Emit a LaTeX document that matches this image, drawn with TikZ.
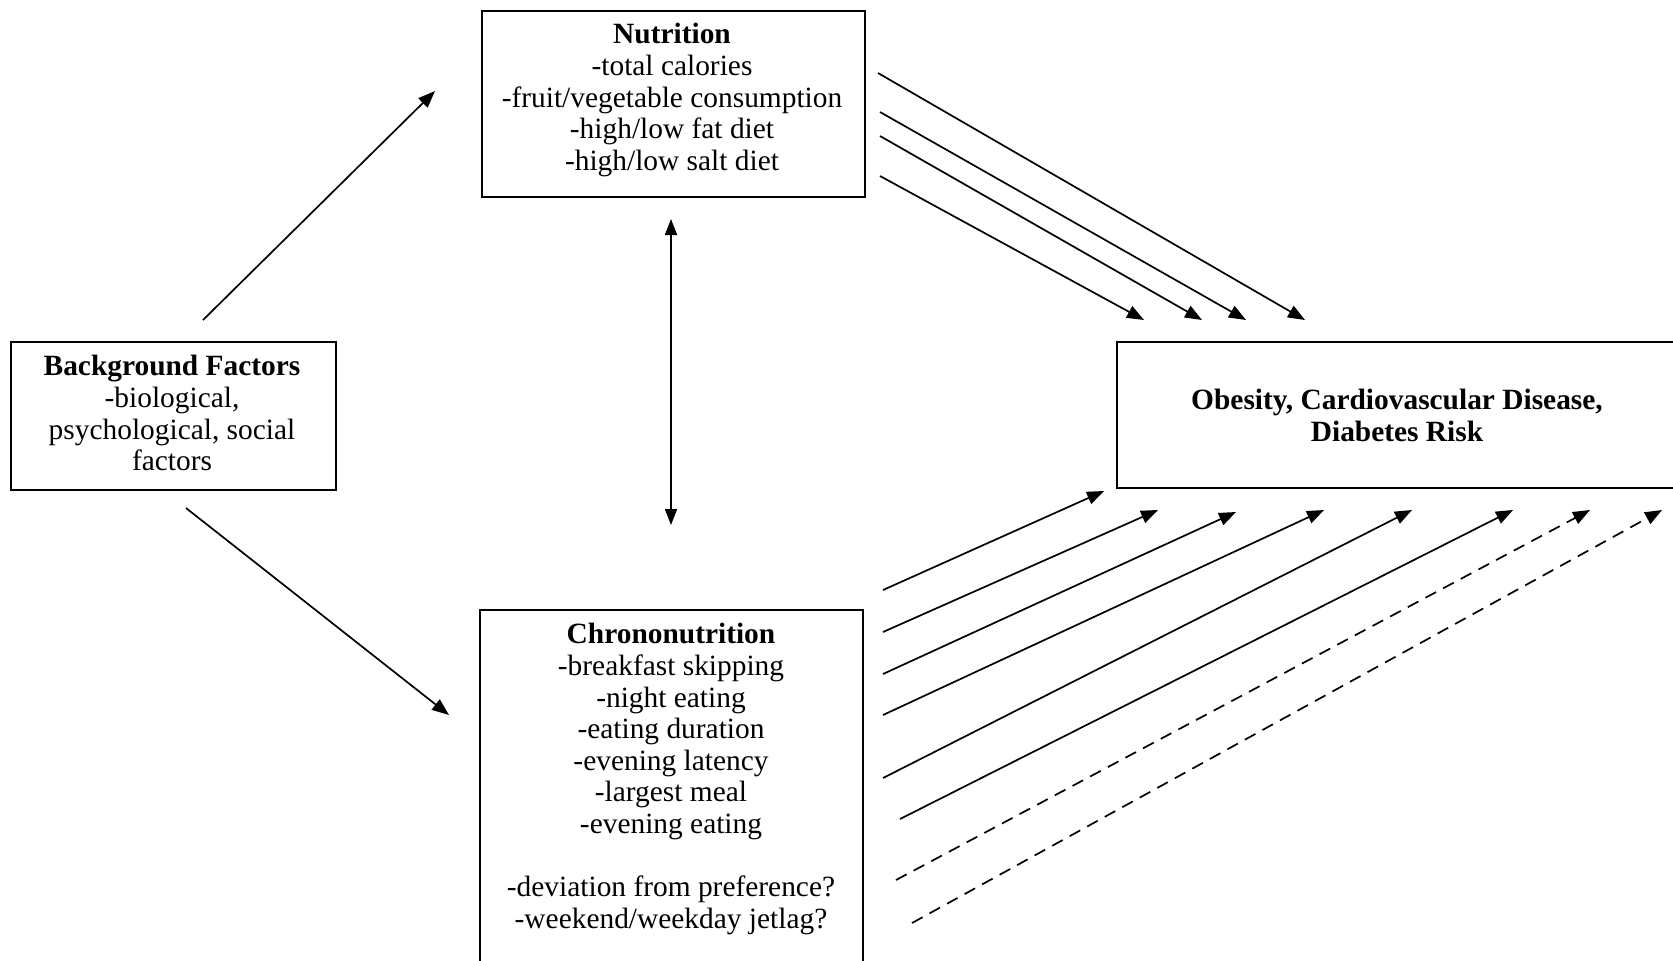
\documentclass[tikz,border=0pt]{standalone}
\usepackage{fontspec}
\setmainfont{Liberation Serif}
\usetikzlibrary{arrows.meta}
\tikzset{
  box/.style={draw, line width=1pt, rectangle, inner sep=0pt},
  txt/.style={align=center, inner sep=0pt, font=\fontsize{14.7}{15.8}\selectfont},
  arr/.style={line width=0.85pt, -{Triangle[length=8.5pt,width=6.5pt]}},
  darr/.style={line width=0.85pt, {Triangle[length=8pt,width=6pt]}-{Triangle[length=8pt,width=6pt]}},
  dsh/.style={arr, dash pattern=on 6pt off 4pt}
}
\begin{document}
\begin{tikzpicture}[x=0.5pt,y=-0.5pt]
\useasboundingbox (0,0) rectangle (1673,960);
% boxes
\node[box, anchor=north west, minimum width=191.5pt, minimum height=93pt] (nut) at (481,10) {};
\node[box, anchor=north west, minimum width=162.5pt, minimum height=74pt] (bg) at (10,341) {};
\node[box, anchor=north west, minimum width=191.5pt, minimum height=200pt] (chr) at (479,609) {};
\node[box, anchor=north west, minimum width=281pt, minimum height=73pt] (obs) at (1116,341) {};
% texts
\node[txt, anchor=north] (nuttxt) at (672,23) {\textbf{Nutrition}\\-total calories\\-fruit/vegetable consumption\\-high/low fat diet\\-high/low salt diet};
\node[txt, anchor=north] (bgtxt) at (172,355) {\textbf{Background Factors}\\-biological,\\psychological, social\\factors};
\node[txt, anchor=north] (chrtxt) at (671,623) {\textbf{Chrononutrition}\\-breakfast skipping\\-night eating\\-eating duration\\-evening latency\\-largest meal\\-evening eating\\[15.8pt]-deviation from preference?\\-weekend/weekday jetlag?};
\node[txt, anchor=north, font=\fontsize{14.7}{15.8}\selectfont\bfseries] (obstxt) at (1397,389) {Obesity, Cardiovascular Disease,\\Diabetes Risk};
% coordinates
\coordinate (bgN) at (203,320);
\coordinate (nutW) at (435,91);
\coordinate (bgS) at (186,508);
\coordinate (chrW) at (449,715);
\coordinate (nutS) at (671,219);
\coordinate (chrN) at (671,525);
\coordinate (t1s) at (878,73);  \coordinate (t1e) at (1305,320);
\coordinate (t2s) at (880,112); \coordinate (t2e) at (1246,320);
\coordinate (t3s) at (880,136); \coordinate (t3e) at (1202,320);
\coordinate (t4s) at (880,176); \coordinate (t4e) at (1144,320);
\coordinate (b1s) at (883,590); \coordinate (b1e) at (1104,491);
\coordinate (b2s) at (883,632); \coordinate (b2e) at (1158,510);
\coordinate (b3s) at (883,674); \coordinate (b3e) at (1236,512);
\coordinate (b4s) at (883,715); \coordinate (b4e) at (1324,510);
\coordinate (b5s) at (883,778); \coordinate (b5e) at (1412,510);
\coordinate (b6s) at (900,819); \coordinate (b6e) at (1513,510);
\coordinate (b7s) at (896,880); \coordinate (b7e) at (1590,510);
\coordinate (b8s) at (912,923); \coordinate (b8e) at (1662,510);
% arrows
\draw[arr] (bgN) -- (nutW);
\draw[arr] (bgS) -- (chrW);
\draw[darr] (nutS) -- (chrN);
\draw[arr] (t1s) -- (t1e);
\draw[arr] (t2s) -- (t2e);
\draw[arr] (t3s) -- (t3e);
\draw[arr] (t4s) -- (t4e);
\draw[arr] (b1s) -- (b1e);
\draw[arr] (b2s) -- (b2e);
\draw[arr] (b3s) -- (b3e);
\draw[arr] (b4s) -- (b4e);
\draw[arr] (b5s) -- (b5e);
\draw[arr] (b6s) -- (b6e);
\draw[dsh] (b7s) -- (b7e);
\draw[dsh] (b8s) -- (b8e);
\end{tikzpicture}
\end{document}
